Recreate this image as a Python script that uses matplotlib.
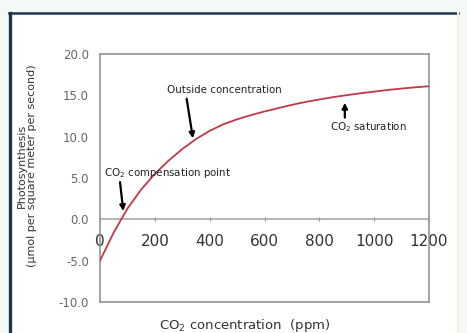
import matplotlib.pyplot as plt
from matplotlib.lines import Line2D

plt.rcParams['font.family'] = ['DejaVu Sans']

# photosynthesis rate vs CO2 concentration
co2 = [0, 50, 100, 150, 200, 250, 300, 350, 400, 450, 500, 550, 600,
       650, 700, 750, 800, 850, 900, 950, 1000, 1050, 1100, 1150, 1200]
rate = [-5.0, -1.6, 1.3, 3.6, 5.5, 7.1, 8.5, 9.7, 10.7, 11.5, 12.1, 12.6, 13.05,
        13.45, 13.85, 14.2, 14.5, 14.78, 15.02, 15.25, 15.45, 15.65, 15.82, 15.97, 16.1]

xticks = [0, 200, 400, 600, 800, 1000, 1200]
yticks = [-10, -5, 0, 5, 10, 15, 20]
ytick_labels = ['-10.0', '-5.0', '0.0', '5.0', '10.0', '15.0', '20.0']

fig = plt.figure(figsize=(4.67, 3.33), dpi=100, facecolor='#f3f9f6')

# white panel with dark frame on top/left
fig.add_artist(plt.Rectangle((10/467, 0), 448/467, 1 - 14/333, transform=fig.transFigure,
                             facecolor='white', edgecolor='none', zorder=0))
fig.add_artist(Line2D([9/467, 458/467], [1 - 13/333, 1 - 13/333], transform=fig.transFigure,
                      color='#1d3557', lw=1.8))
fig.add_artist(Line2D([9.5/467, 9.5/467], [0, 1 - 13/333], transform=fig.transFigure,
                      color='#1f3444', lw=2.4))
fig.add_artist(Line2D([458/467, 458/467], [0, 1 - 13/333], transform=fig.transFigure,
                      color='#eef3e0', lw=1.5))

ax = fig.add_axes([100/467, 1 - 302/333, 329/467, 248/333])
ax.set_facecolor('white')
ax.plot(co2, rate, color='#c0394a', lw=1.3, zorder=3)

ax.set_xlim(0, 1200)
ax.set_ylim(-10, 20)

for s in ['left', 'right', 'top']:
    ax.spines[s].set_color('#8a8a8a')
    ax.spines[s].set_linewidth(1.1)
ax.spines['bottom'].set_position(('data', 0))
ax.spines['bottom'].set_color('#a0a0a0')
ax.spines['bottom'].set_linewidth(1.1)
ax.axhline(-10, color='#8a8a8a', lw=1.1, clip_on=False)

ax.set_xticks(xticks)
ax.set_xticklabels([str(t) for t in xticks])
ax.tick_params(axis='x', direction='inout', length=3, color='#909090',
               labelsize=11, labelcolor='#333333', pad=9)
ax.set_yticks(yticks)
ax.set_yticklabels(ytick_labels)
ax.tick_params(axis='y', length=0, labelsize=8.5, labelcolor='#666666', pad=8)

ax.set_ylabel('Photosynthesis\n(\u03bcmol per square meter per second)',
              fontsize=8, color='#333333', linespacing=1.1)
ax.yaxis.set_label_coords(-0.19, 0.55)
ax.set_xlabel('CO$_2$ concentration  (ppm)', fontsize=9.5, color='#333333')
ax.xaxis.set_label_coords(0.44, -0.06)

arrow = dict(arrowstyle='-|>', color='black', lw=1.6, mutation_scale=8,
             shrinkA=0, shrinkB=0)
ax.annotate('', xy=(339, 9.8), xytext=(316, 14.6), arrowprops=arrow)
ax.text(244, 15.6, 'Outside concentration', fontsize=7.4, color='#222222', va='center')

ax.annotate('', xy=(85, 1.0), xytext=(73, 4.5), arrowprops=arrow)
ax.text(15, 5.6, 'CO$_2$ compensation point', fontsize=7.4, color='#222222', va='center')

ax.annotate('', xy=(893, 14.1), xytext=(893, 12.3), arrowprops=arrow)
ax.text(839, 11.1, 'CO$_2$ saturation', fontsize=7.4, color='#222222', va='center')

fig.savefig('out.png', dpi=100, facecolor=fig.get_facecolor())
